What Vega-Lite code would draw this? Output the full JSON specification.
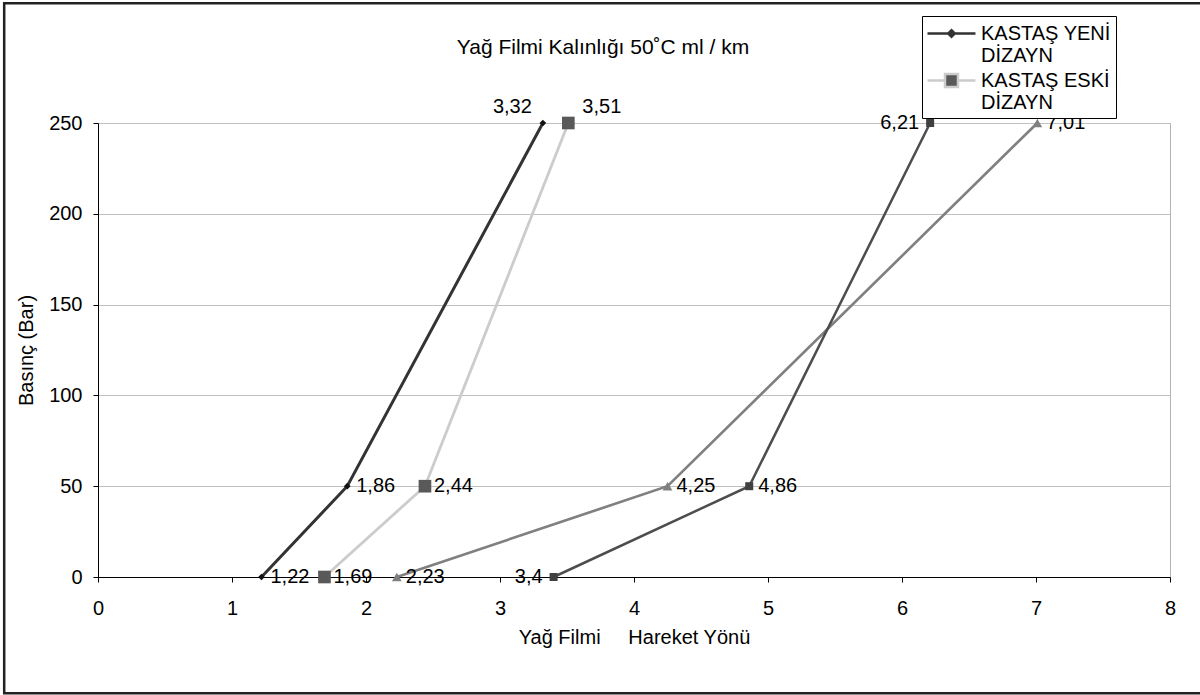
{
  "$schema": "https://vega.github.io/schema/vega-lite/v6.json",
  "width": 1072,
  "height": 454,
  "autosize": "none",
  "padding": {"left": 98, "top": 123, "right": 30, "bottom": 118},
  "background": "white",
  "config": {
    "font": "Liberation Sans",
    "locale": {"number": {"decimal": ",", "thousands": ".", "grouping": [3], "currency": ["", " TL"]}},
    "view": {"stroke": "#b3b3b3"},
    "axis": {
      "labelFontSize": 20, "titleFontSize": 20, "titleFontWeight": "normal",
      "labelColor": "#000", "titleColor": "#000", "domainColor": "#000", "tickColor": "#000",
      "tickSize": 5, "gridColor": "#c0c0c0", "domainWidth": 1, "tickWidth": 1
    }
  },
  "title": {
    "text": "Yağ Filmi Kalınlığı 50˚C ml / km",
    "fontSize": 21, "fontWeight": "normal", "color": "#000",
    "frame": "group", "anchor": "middle", "dx": -31,
    "baseline": "alphabetic", "offset": 0, "dy": 73
  },
  "data": {
    "values": [
      {"s": "KASTAŞ YENİ DİZAYN", "x": 1.22, "y": 0},
      {"s": "KASTAŞ YENİ DİZAYN", "x": 1.86, "y": 50},
      {"s": "KASTAŞ YENİ DİZAYN", "x": 3.32, "y": 250},
      {"s": "KASTAŞ ESKİ DİZAYN", "x": 1.69, "y": 0},
      {"s": "KASTAŞ ESKİ DİZAYN", "x": 2.44, "y": 50},
      {"s": "KASTAŞ ESKİ DİZAYN", "x": 3.51, "y": 250},
      {"s": "Seri 3", "x": 2.23, "y": 0},
      {"s": "Seri 3", "x": 4.25, "y": 50},
      {"s": "Seri 3", "x": 7.01, "y": 250},
      {"s": "Seri 4", "x": 3.4, "y": 0},
      {"s": "Seri 4", "x": 4.86, "y": 50},
      {"s": "Seri 4", "x": 6.21, "y": 250}
    ]
  },
  "encoding": {
    "x": {
      "field": "x", "type": "quantitative",
      "scale": {"domain": [0, 8], "nice": false, "zero": false},
      "axis": {
        "values": [0, 1, 2, 3, 4, 5, 6, 7, 8], "grid": false, "labelPadding": 16,
        "titlePadding": 9, "title": "Yağ Filmi\u00a0\u00a0\u00a0\u00a0 Hareket Yönü", "labelFlush": false
      }
    },
    "y": {
      "field": "y", "type": "quantitative",
      "scale": {"domain": [0, 250], "nice": false},
      "axis": {
        "values": [0, 50, 100, 150, 200, 250], "grid": true, "labelPadding": 11,
        "titlePadding": 12, "title": "Basınç (Bar)"
      }
    }
  },
  "layer": [
    {
      "transform": [{"filter": "datum.x === 1.22"}],
      "mark": {"type": "rect", "fill": "transparent", "stroke": "#222222", "strokeWidth": 2.5, "clip": false},
      "encoding": {
        "x": {"datum": -0.7, "type": "quantitative"},
        "x2": {"datum": 8.5},
        "y": {"datum": 316, "type": "quantitative"},
        "y2": {"datum": -64}
      }
    },
    {
      "mark": {"type": "line"},
      "encoding": {
        "color": {
          "field": "s", "type": "nominal", "legend": null,
          "scale": {"domain": ["KASTAŞ YENİ DİZAYN", "KASTAŞ ESKİ DİZAYN", "Seri 3", "Seri 4"],
                    "range": ["#333333", "#cccccc", "#808080", "#4d4d4d"]}
        },
        "strokeWidth": {
          "field": "s", "type": "nominal", "legend": null,
          "scale": {"domain": ["KASTAŞ YENİ DİZAYN", "KASTAŞ ESKİ DİZAYN", "Seri 3", "Seri 4"],
                    "range": [3, 2.5, 2, 1.7]}
        },
        "order": {"field": "y", "type": "quantitative"}
      }
    },
    {
      "transform": [{"filter": "datum.s === 'KASTAŞ YENİ DİZAYN'"}],
      "mark": {"type": "point", "shape": "diamond", "filled": true, "color": "#111111", "size": 45, "opacity": 1}
    },
    {
      "transform": [{"filter": "datum.s === 'KASTAŞ ESKİ DİZAYN'"}],
      "mark": {"type": "point", "shape": "square", "filled": true, "color": "#595959", "size": 160, "opacity": 1}
    },
    {
      "transform": [{"filter": "datum.s === 'Seri 3'"}],
      "mark": {"type": "point", "shape": "triangle-up", "filled": true, "color": "#808080", "size": 95, "opacity": 1}
    },
    {
      "transform": [{"filter": "datum.s === 'Seri 4'"}],
      "mark": {"type": "point", "shape": "square", "filled": true, "color": "#404040", "size": 64, "opacity": 1}
    },
    {
      "transform": [{"filter": "(datum.s === 'KASTAŞ YENİ DİZAYN' || datum.s === 'KASTAŞ ESKİ DİZAYN') && datum.y === 0"}],
      "mark": {"type": "point", "filled": true, "opacity": 0},
      "encoding": {
        "shape": {
          "field": "s", "type": "nominal",
          "scale": {
            "domain": ["KASTAŞ YENİ DİZAYN", "KASTAŞ ESKİ DİZAYN"],
            "range": [
              "M-1.09,0L3.27,0M1.09,-0.3L1.39,0L1.09,0.3L0.79,0Z",
              "M-1.09,0L0.5,0M1.68,0L3.27,0M0.5,-0.59L1.68,-0.59L1.68,0.59L0.5,0.59Z"
            ]
          },
          "legend": {
            "title": null, "orient": "none", "legendX": 824, "legendY": -107,
            "padding": 5, "strokeColor": "#000000", "fillColor": "#ffffff",
            "symbolSize": 484, "symbolStrokeWidth": 2.5, "symbolOpacity": 1,
            "labelFontSize": 20, "labelColor": "#000000", "labelLimit": 0, "labelOffset": 29,
            "rowPadding": 2, "labelBaseline": "middle",
            "labelExpr": "[slice(datum.label, 0, 11), slice(datum.label, 12)]",
            "encode": {
              "symbols": {"update": {"opacity": {"value": 1}}},
              "labels": {"update": {"lineHeight": {"value": 22}}}
            }
          }
        },
        "fill": {
          "field": "s", "type": "nominal",
          "scale": {"domain": ["KASTAŞ YENİ DİZAYN", "KASTAŞ ESKİ DİZAYN"], "range": ["#111111", "#595959"]}
        },
        "stroke": {
          "field": "s", "type": "nominal",
          "scale": {"domain": ["KASTAŞ YENİ DİZAYN", "KASTAŞ ESKİ DİZAYN"], "range": ["#333333", "#cccccc"]}
        }
      }
    },
    {
      "transform": [{"filter": "datum.x !== 3.4 && datum.x !== 6.21 && datum.x !== 3.32 && datum.x !== 3.51"}],
      "mark": {"type": "text", "align": "left", "baseline": "middle", "dx": 9, "fontSize": 20, "color": "#000"},
      "encoding": {"text": {"field": "x", "type": "quantitative", "format": ".2~f"}}
    },
    {
      "transform": [{"filter": "datum.x === 3.4 || datum.x === 6.21"}],
      "mark": {"type": "text", "align": "right", "baseline": "middle", "dx": -11, "fontSize": 20, "color": "#000"},
      "encoding": {"text": {"field": "x", "type": "quantitative", "format": ".2~f"}}
    },
    {
      "transform": [{"filter": "datum.x === 3.32"}],
      "mark": {"type": "text", "align": "right", "baseline": "middle", "dx": -11, "dy": -16, "fontSize": 20, "color": "#000"},
      "encoding": {"text": {"field": "x", "type": "quantitative", "format": ".2~f"}}
    },
    {
      "transform": [{"filter": "datum.x === 3.51"}],
      "mark": {"type": "text", "align": "left", "baseline": "middle", "dx": 14, "dy": -16, "fontSize": 20, "color": "#000"},
      "encoding": {"text": {"field": "x", "type": "quantitative", "format": ".2~f"}}
    }
  ]
}
